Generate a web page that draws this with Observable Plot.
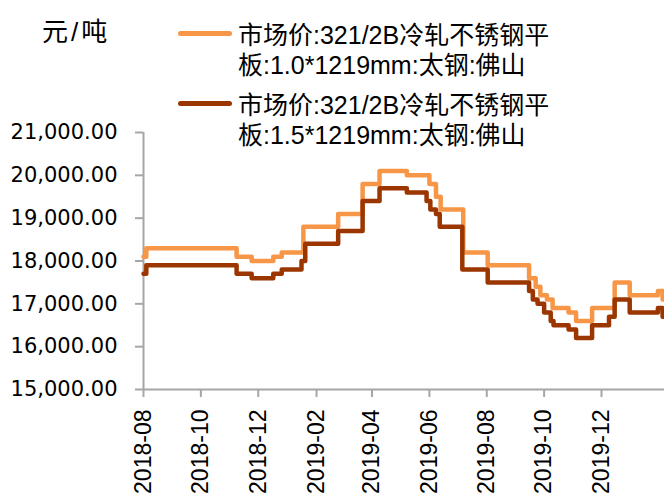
<!DOCTYPE html>
<html><head><meta charset="utf-8">
<script src="https://cdn.jsdelivr.net/npm/d3@7"></script>
<script src="https://cdn.jsdelivr.net/npm/@observablehq/plot@0.6"></script>
<style>
body{margin:0;background:#fff;}
#wrap{position:relative;width:664px;height:493px;overflow:hidden;background:#fff;}
.lg{position:absolute;font-family:"Liberation Sans","Noto Sans CJK SC",sans-serif;font-size:25px;line-height:30px;color:#000;white-space:nowrap;}
.sw{position:absolute;height:5px;border-radius:3px;}
</style></head><body><div id="wrap"></div>
<script>
const unitLabel = "元/吨";
const seriesNames = [
  "市场价:321/2B冷轧不锈钢平板:1.0*1219mm:太钢:佛山",
  "市场价:321/2B冷轧不锈钢平板:1.5*1219mm:太钢:佛山"
];
const seriesColors = ["#F79646", "#9C3600"];

const datesA = ["2018-08-01","2018-08-04","2018-11-08","2018-11-24","2018-12-17","2018-12-26","2019-01-18","2019-02-24","2019-03-22","2019-04-09","2019-05-08","2019-06-01","2019-06-08","2019-06-13","2019-07-07","2019-08-02","2019-09-15","2019-09-22","2019-09-27","2019-10-04","2019-10-10","2019-10-27","2019-11-04","2019-11-21","2019-12-15","2019-12-31","2020-01-30","2020-02-04","2020-02-06"];
const valuesA = [18100,18300,18100,18000,18100,18200,18800,19100,19800,20100,20000,19800,19500,19200,18200,17900,17600,17400,17200,17100,16900,16800,16600,16900,17500,17200,17300,17100,17100];

const datesB = ["2018-08-01","2018-08-04","2018-11-08","2018-11-24","2018-12-17","2018-12-26","2019-01-16","2019-01-20","2019-02-24","2019-03-22","2019-04-09","2019-05-08","2019-05-29","2019-06-02","2019-06-08","2019-06-12","2019-07-06","2019-08-02","2019-09-15","2019-09-19","2019-09-24","2019-10-01","2019-10-08","2019-10-11","2019-10-27","2019-11-04","2019-11-21","2019-12-09","2019-12-15","2019-12-31","2020-01-30","2020-02-04","2020-02-06"];
const valuesB = [17700,17900,17700,17600,17700,17800,18000,18400,18700,19400,19700,19600,19400,19200,19100,18800,17800,17500,17300,17100,17000,16800,16600,16500,16400,16200,16500,16700,17100,16800,16900,16700,16700];

const xTicks = ["2018-08-01","2018-10-01","2018-12-01","2019-02-01","2019-04-01","2019-06-01","2019-08-01","2019-10-01","2019-12-01"];
const yTicks = [15000,16000,17000,18000,19000,20000,21000];
const xStart = "2018-08-01", xEnd = "2020-02-06";

const rows = [
  ...datesA.map((d,i)=>({date:new Date(d), value:valuesA[i], series:seriesNames[0]})),
  ...datesB.map((d,i)=>({date:new Date(d), value:valuesB[i], series:seriesNames[1]}))
];

const axisGray = "#A6A6A6";
const chart = Plot.plot({
  width:664, height:493,
  marginLeft:143, marginRight:0, marginTop:132, marginBottom:104,
  x:{type:"utc", domain:[new Date(xStart), new Date(xEnd)]},
  y:{domain:[15000,21000]},
  color:{domain:seriesNames, range:seriesColors},
  style:{background:"white", color:"black"},
  marks:[
    Plot.axisY({ticks:yTicks, tickFormat:d3.format(",.2f"), tickSize:8, tickPadding:18, stroke:axisGray, strokeWidth:2, fill:"black", label:null, fontSize:21, fontFamily:"DejaVu Sans"}),
    Plot.axisX({ticks:xTicks.map(d=>new Date(d)), tickFormat:d3.utcFormat("%Y-%m"), tickSize:8, tickPadding:12, tickRotate:-90, stroke:axisGray, strokeWidth:2, fill:"black", label:null, fontSize:23, fontFamily:"Liberation Sans"}),
    Plot.ruleY([15000], {stroke:axisGray, strokeWidth:2}),
    Plot.ruleX([new Date(xStart)], {stroke:axisGray, strokeWidth:2}),
    Plot.line(rows, {x:"date", y:"value", z:"series", stroke:"series", strokeWidth:4.5, curve:"step-after", strokeLinejoin:"round"})
  ]
});
const wrap = document.getElementById("wrap");
wrap.appendChild(chart);

function addText(lines, left, top, extra){
  const d = document.createElement("div");
  d.className = "lg";
  lines.forEach((t,k)=>{ if(k) d.appendChild(document.createElement("br")); d.appendChild(document.createTextNode(t)); });
  d.style.left = left+"px"; d.style.top = top+"px";
  if (extra) Object.assign(d.style, extra);
  wrap.appendChild(d);
}
addText([unitLabel], 42, 17, {fontSize:"26px", letterSpacing:"3px"});
seriesNames.forEach((name,i)=>{
  const top = 18 + i*70;
  const sw = document.createElement("div");
  sw.className = "sw"; sw.style.background = seriesColors[i];
  sw.style.left = "178px"; sw.style.width = "54px"; sw.style.top = (top+13)+"px";
  wrap.appendChild(sw);
  addText([name.slice(0,16), name.slice(16)], 238, top+2);
});
</script></body></html>
